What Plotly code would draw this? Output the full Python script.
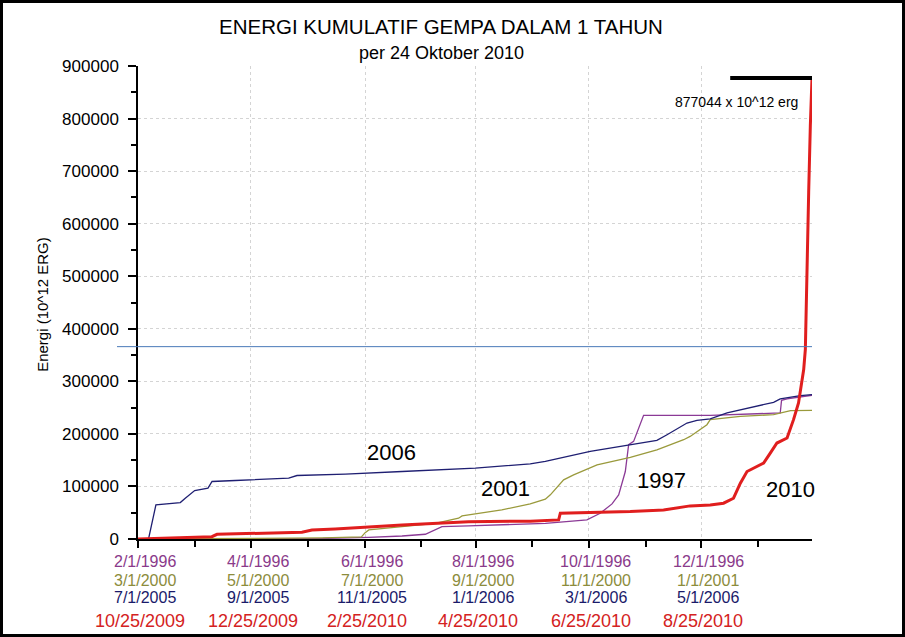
import plotly.graph_objects as go

# ---------------- data (days since start of each 1-year window) ----------------
days_1997 = [0, 100, 124.9, 143, 155.6, 161, 164.6, 179, 212.4, 220.6, 243.1, 250.3, 256.7, 260.3,
             263.9, 265.7, 268.4, 273.8, 309.9, 347.8, 348.5, 351.5, 365]
vals_1997 = [0, 1000, 3200, 5700, 9000, 18500, 23700, 24800, 28600, 29900, 36300, 49000, 66800, 84000,
             128400, 179400, 185700, 235300, 235300, 239800, 263900, 266500, 273500]

days_2001 = [0, 60, 100, 121, 123, 125, 161, 173.6, 175.5, 197, 212.4, 220.6, 223.3, 230.5, 235.9,
             248.6, 266.6, 281, 295.5, 299, 308.1, 309.9, 326.2, 344.2, 353.4, 365]
vals_2001 = [0, 500, 2000, 4000, 12000, 17200, 29900, 39500, 43900, 55300, 66800, 75700, 84000, 112600,
             122100, 141200, 155100, 169800, 188900, 195200, 217500, 227100, 233400, 236600, 244200, 244800]

days_2006 = [0, 5.7, 9.7, 22.9, 25.6, 30.7, 37.9, 40.1, 52.7, 61.7, 81.6, 86.1, 112.3, 143, 182.7,
             212.4, 220.6, 244.9, 266.6, 281, 286.5, 297.3, 302.7, 309.9, 319, 344.2, 347.8, 358.7, 365]
vals_2006 = [0, 0, 64900, 69300, 77600, 92200, 96700, 109400, 111300, 112600, 115800, 120800, 123400,
             128400, 134900, 143100, 147500, 166600, 179400, 187600, 198400, 220700, 225700, 228400,
             239800, 260100, 266500, 272800, 274800]

days_2010 = [0, 23.8, 40, 42.8, 67.1, 88.8, 94.2, 106.8, 143, 161, 179, 212.4, 227.8, 228.7, 248.6,
             266.6, 284.6, 299, 309.9, 317.1, 322.5, 326.2, 329.8, 335.2, 338.8, 342.4, 346, 351.5,
             355, 357.7, 359.6, 360.5, 361.4, 362.3, 363.2, 364.1, 364.6, 365]
vals_2010 = [0, 2500, 4400, 9000, 10900, 12800, 17200, 19000, 26700, 29900, 33000, 34000, 36300, 49000,
             50900, 52100, 55300, 63000, 64900, 68100, 77600, 106300, 128400, 137900, 144400, 163500,
             182600, 192100, 227100, 258900, 297100, 322500, 360600, 532300, 659600, 786700, 875800,
             877044]

max_days = [320.7, 365]
max_energy = 877044
ref_level = 366000

tick_days = [0, 61, 123, 183, 244, 305]
minor_days = [31, 92, 153, 213.5, 275, 336]
labels_1997 = ["2/1/1996", "4/1/1996", "6/1/1996", "8/1/1996", "10/1/1996", "12/1/1996"]
labels_2001 = ["3/1/2000", "5/1/2000", "7/1/2000", "9/1/2000", "11/1/2000", "1/1/2001"]
labels_2006 = ["7/1/2005", "9/1/2005", "11/1/2005", "1/1/2006", "3/1/2006", "5/1/2006"]
labels_2010 = ["10/25/2009", "12/25/2009", "2/25/2010", "4/25/2010", "6/25/2010", "8/25/2010"]
y_ticks = [0, 100000, 200000, 300000, 400000, 500000, 600000, 700000, 800000, 900000]

# ---------------- styles ----------------
FONT = "Liberation Sans, Arial, sans-serif"
C1997 = "#8b3a96"
C2001 = "#9a9a3c"
C2006 = "#1f1f72"
C2010 = "#e01e1e"
L1997 = "#8a3a8a"
L2001 = "#8c8c3c"
L2006 = "#1a1a6a"
L2010 = "#d42222"

fig = go.Figure()
fig.add_trace(go.Scatter(x=days_1997, y=vals_1997, mode="lines", line=dict(color=C1997, width=1.3)))
fig.add_trace(go.Scatter(x=days_2001, y=vals_2001, mode="lines", line=dict(color=C2001, width=1.3)))
fig.add_trace(go.Scatter(x=days_2006, y=vals_2006, mode="lines", line=dict(color=C2006, width=1.3)))
fig.add_trace(go.Scatter(x=days_2010, y=vals_2010, mode="lines", line=dict(color=C2010, width=3)))
fig.add_trace(go.Scatter(x=max_days, y=[max_energy, max_energy], mode="lines",
                         line=dict(color="black", width=4)))

W_PLOT = 905 - 138 - 93
H_PLOT = 637 - 66 - 98

fig.update_layout(
    width=905, height=637,
    margin=dict(l=138, r=93, t=66, b=98),
    paper_bgcolor="white", plot_bgcolor="white",
    showlegend=False,
    font=dict(family=FONT, color="black"),
    xaxis=dict(range=[0, 365], tickvals=tick_days, showticklabels=False,
               ticks="outside", ticklen=7, tickwidth=1.5, tickcolor="black",
               showline=True, linecolor="black", linewidth=1.5,
               showgrid=True, gridcolor="#d4d4d4", griddash="dot", gridwidth=1,
               zeroline=False,
               minor=dict(tickvals=minor_days, ticks="outside", ticklen=6, tickwidth=1.5,
                          tickcolor="black", showgrid=False)),
    yaxis=dict(range=[0, 900000], tickvals=y_ticks, tickformat="d",
               ticks="outside", ticklen=8, tickwidth=1.5, tickcolor="black",
               ticklabelstandoff=6,
               tickfont=dict(size=17, family=FONT, color="black"),
               showline=True, linecolor="black", linewidth=1.5,
               showgrid=True, gridcolor="#d4d4d4", griddash="dot", gridwidth=1,
               zeroline=False,
               minor=dict(dtick=50000, ticks="outside", ticklen=5, tickwidth=1.5,
                          tickcolor="black", showgrid=False)),
)

# reference horizontal line
fig.add_shape(type="line", xref="paper", yref="y", x0=-21 / W_PLOT, x1=1,
              y0=ref_level, y1=ref_level, line=dict(color="#4a7ab8", width=1))

# outer frame
fig.add_shape(type="rect", xref="paper", yref="paper",
              x0=-136.5 / W_PLOT, x1=1 + 91.5 / W_PLOT,
              y0=-96.5 / H_PLOT, y1=1 + 64.5 / H_PLOT,
              line=dict(color="black", width=3), fillcolor="rgba(0,0,0,0)")

ann = []
# title
ann.append(dict(text="ENERGI KUMULATIF GEMPA DALAM 1 TAHUN", xref="paper", yref="paper",
                x=(441 - 138) / W_PLOT, y=1, yshift=40, xanchor="center", yanchor="middle",
                showarrow=False, font=dict(size=20.5, family=FONT, color="black")))
ann.append(dict(text="per 24 Oktober 2010", xref="paper", yref="paper",
                x=(441 - 138) / W_PLOT, y=1, yshift=13, xanchor="center", yanchor="middle",
                showarrow=False, font=dict(size=18, family=FONT, color="black")))
# y title
ann.append(dict(text="Energi (10^12 ERG)", xref="paper", yref="paper", x=0, xshift=-95,
                y=0.495, textangle=-90, xanchor="center", yanchor="middle", showarrow=False,
                font=dict(size=15, family=FONT, color="black")))
# x tick label rows
rows = [(labels_1997, L1997, 16, -22, 7), (labels_2001, L2001, 16, -41, 7),
        (labels_2006, L2006, 16, -58.5, 7), (labels_2010, L2010, 18, -82, 2)]
for labels, col, size, ysh, xsh in rows:
    for d, lab in zip(tick_days, labels):
        ann.append(dict(text=lab, xref="x", yref="paper", x=d, y=0, yshift=ysh, xshift=xsh,
                        xanchor="center", yanchor="middle", showarrow=False,
                        font=dict(size=size, family=FONT, color=col)))
# series labels
for txt, x, y in [("2006", 137.3, 164100), ("2001", 198.9, 96700), ("1997", 283.4, 111300),
                  ("2010", 353.1, 93500)]:
    ann.append(dict(text=txt, x=x, y=y, xref="x", yref="y", showarrow=False,
                    xanchor="center", yanchor="middle", font=dict(size=22, family=FONT, color="black")))
# max annotation
ann.append(dict(text="877044 x 10^12 erg", x=358.7, y=832000, xref="x", yref="y", showarrow=False,
                xanchor="right", yanchor="middle", font=dict(size=14, family=FONT, color="black")))

fig.update_layout(annotations=ann)
fig.write_html("out.html")
